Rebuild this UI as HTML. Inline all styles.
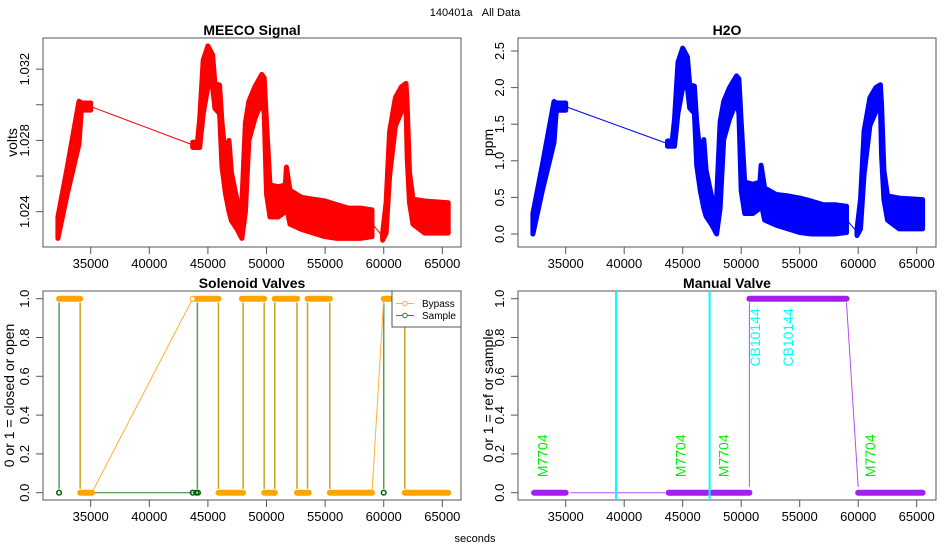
<!DOCTYPE html>
<html><head><meta charset="utf-8"><style>
body{margin:0;background:#fff}
svg{display:block;font-family:"Liberation Sans",sans-serif}
</style></head><body>
<svg id="c" width="950" height="550" viewBox="0 0 950 550"></svg>
<script>
// ---- data ----
const segIds = [0,0,0,0,0, 1,1,1,1,1,1,1,1,1,1,1,1,1,1,1,1,1,1,1,1,1,1,1,1,1,1,1,1,1,1,1,1, 2,2,2,2,2,2,2,2,2,2,2];
const times = [32200,33000,34000,34200,35000,
 43700,44100,44300,44600,45000,45400,45600,46000,46200,46500,46800,47000,47500,47900,48200,48500,49000,49600,49800,50000,50300,51000,51600,51700,52000,53000,54000,55000,56000,57000,58000,59000,
 59900,60200,60500,61000,61500,61900,62000,62200,62500,63500,65500];
const meecoLo = [1.0225,1.0250,1.0278,1.0297,1.0297,
 1.0276,1.0276,1.0276,1.0295,1.0310,1.0310,1.0298,1.0295,1.0265,1.0250,1.0240,1.0235,1.0230,1.0225,1.0240,1.0280,1.0292,1.0302,1.0295,1.0250,1.0237,1.0237,1.0240,1.0243,1.0233,1.0230,1.0228,1.0226,1.0225,1.0225,1.0225,1.0226,
 1.0224,1.0228,1.0260,1.0288,1.0296,1.0300,1.0270,1.0245,1.0233,1.0228,1.0228];
const meecoHi = [1.0237,1.0265,1.0302,1.0301,1.0301,
 1.0279,1.0279,1.0292,1.0325,1.0333,1.0328,1.0312,1.0311,1.0290,1.0270,1.0280,1.0262,1.0246,1.0245,1.0290,1.0302,1.0310,1.0317,1.0315,1.0290,1.0255,1.0254,1.0255,1.0265,1.0252,1.0248,1.0247,1.0246,1.0244,1.0242,1.0242,1.0241,
 1.0228,1.0245,1.0285,1.0304,1.0310,1.0312,1.0300,1.0262,1.0247,1.0246,1.0245];
const h2oLo = [0.00,0.59,1.25,1.69,1.69,
 1.20,1.20,1.20,1.65,2.00,2.00,1.72,1.65,0.94,0.59,0.35,0.24,0.12,0.00,0.35,1.29,1.57,1.81,1.65,0.59,0.28,0.28,0.35,0.42,0.19,0.12,0.07,0.02,0.00,0.00,0.00,0.02,
 -0.02,0.07,0.82,1.48,1.67,1.76,1.06,0.47,0.19,0.07,0.07];
const h2oHi = [0.28,0.94,1.81,1.79,1.79,
 1.27,1.27,1.57,2.35,2.54,2.42,2.04,2.02,1.53,1.06,1.29,0.87,0.49,0.47,1.53,1.81,2.00,2.16,2.12,1.53,0.71,0.68,0.71,0.94,0.63,0.54,0.52,0.49,0.45,0.40,0.40,0.38,
 0.07,0.47,1.41,1.86,2.00,2.04,1.76,0.87,0.52,0.49,0.47];
const bypassOnStart = [32300,43900,47900,50700,53500,60000];
const bypassOnEnd   = [34100,45900,49800,52600,55400,61800];
const bypassOffStart= [34100,45900,49800,50700,52600,55400,61800];
const bypassOffEnd  = [35100,48000,50700,50700,53600,59000,65500];
const bypassJumpFrom= [35100,59000];
const bypassJumpTo  = [43700,60000];
const switchTimes   = [32300,34100,44100,45900,48000,49800,50700,52600,53500,55400,60000,61800];
const switchIsSample= [1,0,1,0,0,0,0,0,0,0,1,0];
const samplePoints  = [32300,43700,44000,44150,60000];
const manualOnStart = [50700];
const manualOnEnd   = [59000];
const manualOffStart= [32300,43800,60000];
const manualOffEnd  = [35000,50700,65500];
const cyanLines     = [39300,47300];
const m7704Times    = [33000,44800,48500,61000];
const cb10144Times  = [51200,54000];
const xTicks = [35000,40000,45000,50000,55000,60000,65000];
const meecoTicks = [1.024,1.026,1.028,1.030,1.032];
const meecoTickLabels = ["1.024","","1.028","","1.032"];
const h2oTicks = [0,0.5,1,1.5,2,2.5];
const h2oTickLabels = ["0.0","0.5","1.0","1.5","2.0","2.5"];
const valveTicks = [0,0.2,0.4,0.6,0.8,1.0];
const valveTickLabels = ["0.0","0.2","0.4","0.6","0.8","1.0"];

// ---- scales ----
const xL = t => 90.7 + (t-35000)*0.011721;
const xR = t => 565.7 + (t-35000)*0.0117;
const yMeeco = v => 211.7 - (v-1.024)/0.004*71.3;
const yH2O = p => 234 - p*73.2;
const yBot = s => 492.7 - s*194;

const svg = document.getElementById('c');
const NS = 'http://www.w3.org/2000/svg';
function mk(tag, attrs, parent, text){
  const e = document.createElementNS(NS, tag);
  for (const k in attrs) e.setAttribute(k, attrs[k]);
  if (text !== undefined) e.textContent = text;
  (parent||svg).appendChild(e);
  return e;
}

let el;
el = mk('text',{x:475,y:16,'font-size':11,'text-anchor':'middle'},svg,'140401a\u00a0\u00a0\u00a0All Data');


el = mk('text',{x:475,y:542,'font-size':11,'text-anchor':'middle'},svg,'seconds');



function panel(name, box, xs, title, ylab, yticks, ylabels, ys, ylabX){
  const g = mk('g',{});
  
  
  el = mk('rect',{x:box[0],y:box[1],width:box[2]-box[0],height:box[3]-box[1],fill:'none',stroke:'#555','stroke-width':1},g);
  
  
  el = mk('text',{x:(box[0]+box[2])/2,y:box[1]-3,'font-size':14,'font-weight':'bold','text-anchor':'middle'},g,title);
  
  
  const xa = mk('g',{},g);
  
  
  mk('line',{x1:xs(xTicks[0]),x2:xs(xTicks[xTicks.length-1]),y1:box[3],y2:box[3],stroke:'#555'},xa);
  xTicks.forEach(t=>{
    mk('line',{x1:xs(t),x2:xs(t),y1:box[3],y2:box[3]+7,stroke:'#555'},xa);
    el = mk('text',{x:xs(t),y:box[3]+21,'font-size':13,'text-anchor':'middle'},xa,String(t));
    
    
  });
  const ya = mk('g',{},g);
  
  
  mk('line',{x1:box[0],x2:box[0],y1:ys(yticks[0]),y2:ys(yticks[yticks.length-1]),stroke:'#555'},ya);
  yticks.forEach((v,i)=>{
    const y = ys(v);
    mk('line',{x1:box[0]-7,x2:box[0],y1:y,y2:y,stroke:'#555'},ya);
    if (ylabels[i]){
      el = mk('text',{x:0,y:0,'font-size':13,'text-anchor':'middle',transform:`translate(${box[0]-14},${y}) rotate(-90)`},ya,ylabels[i]);
      
      
    }
  });
  el = mk('text',{x:0,y:0,'font-size':14,'text-anchor':'middle',transform:`translate(${ylabX},${(box[1]+box[3])/2}) rotate(-90)`},g,ylab);
  
  
  return g;
}

function bandSeries(g, xs, ys, lo, hi, color, name){
  const sg = mk('g',{},g);
  
  
  const segs = [...new Set(segIds)];
  const lastCenter = [];
  segs.forEach(s=>{
    const idx = times.map((t,i)=>i).filter(i=>segIds[i]===s);
    const top = idx.map(i=>`${xs(times[i]).toFixed(1)},${ys(hi[i]).toFixed(1)}`);
    const bot = idx.slice().reverse().map(i=>`${xs(times[i]).toFixed(1)},${ys(lo[i]).toFixed(1)}`);
    el = mk('polygon',{points:top.concat(bot).join(' '),fill:color,stroke:color,'stroke-width':5,'stroke-linejoin':'round'},sg);
    
    
    lastCenter.push([idx[0], idx[idx.length-1]]);
  });
  for (let k=0;k<lastCenter.length-1;k++){
    const a = lastCenter[k][1], b = lastCenter[k+1][0];
    el = mk('line',{x1:xs(times[a]),y1:ys((lo[a]+hi[a])/2),x2:xs(times[b]),y2:ys((lo[b]+hi[b])/2),stroke:color,'stroke-width':1},sg);
    
    
  }
}

// Panel 1: MEECO
const p1 = panel('meeco-signal-panel',[43,38,461,247],xL,'MEECO Signal','volts',meecoTicks,meecoTickLabels,yMeeco,17);
bandSeries(p1,xL,yMeeco,meecoLo,meecoHi,'#ff0000','meeco-series');

// Panel 2: H2O
const p2 = panel('h2o-panel',[518,38,936,247],xR,'H2O','ppm',h2oTicks,h2oTickLabels,yH2O,493);
bandSeries(p2,xR,yH2O,h2oLo,h2oHi,'#0000ff','h2o-series');

// Panel 3: Solenoid valves
const p3 = panel('solenoid-valves-panel',[43,291,461,500],xL,'Solenoid Valves','0 or 1 = closed or open',valveTicks,valveTickLabels,yBot,14);
switchTimes.forEach((t,i)=>{
  el = mk('line',{x1:xL(t),x2:xL(t),y1:yBot(0.02),y2:yBot(0.98),stroke:switchIsSample[i]?'#5a9a5a':'#c8a020','stroke-width':1.5},p3);
  
  
});
bypassJumpFrom.forEach((t,i)=>{
  el = mk('line',{x1:xL(t),y1:yBot(0),x2:xL(bypassJumpTo[i]),y2:yBot(1),stroke:'#ffb030','stroke-width':1},p3);
  
  
});
el = mk('line',{x1:xL(35100),y1:yBot(0),x2:xL(43700),y2:yBot(0),stroke:'#2e7d2e','stroke-width':1},p3);


bypassOnStart.forEach((t,i)=>{
  el = mk('line',{x1:xL(t),x2:xL(bypassOnEnd[i]),y1:yBot(1),y2:yBot(1),stroke:'#ffa500','stroke-width':6,'stroke-linecap':'round'},p3);
  
  
});
bypassOffStart.forEach((t,i)=>{
  el = mk('line',{x1:xL(t),x2:xL(bypassOffEnd[i]),y1:yBot(0),y2:yBot(0),stroke:'#ffa500','stroke-width':6,'stroke-linecap':'round'},p3);
  
  
});
el = mk('circle',{cx:xL(43700),cy:yBot(1),r:2.5,fill:'#fff',stroke:'#ffa500'},p3);


samplePoints.forEach(t=>{
  el = mk('circle',{cx:xL(t),cy:yBot(0),r:2.3,fill:'none',stroke:'#006400','stroke-width':1.5},p3);
  
  
});
const lg = mk('g',{},p3);


mk('rect',{x:392,y:291,width:69,height:36,fill:'#fff',stroke:'#555'},lg);
[['Bypass','#ffb040',303.5],['Sample','#2e8b2e',315.5]].forEach(([n,c,y])=>{
  const e = mk('g',{},lg);
  
  
  mk('line',{x1:396,x2:414,y1:y,y2:y,stroke:c},e);
  mk('circle',{cx:405,cy:y,r:2.3,fill:'#fff',stroke:c},e);
  mk('text',{x:422,y:y+3.5,'font-size':10},e,n);
});

// Panel 4: Manual valve
const p4 = panel('manual-valve-panel',[518,291,936,500],xR,'Manual Valve','0 or 1 = ref or sample',valveTicks,valveTickLabels,yBot,493);
el = mk('line',{x1:xR(35400),x2:xR(43500),y1:yBot(0),y2:yBot(0),stroke:'#b050f0','stroke-width':1},p4);


el = mk('line',{x1:xR(50700),x2:xR(50700),y1:yBot(0.03),y2:yBot(0.98),stroke:'#b050f0','stroke-width':1},p4);


el = mk('line',{x1:xR(59000),x2:xR(60000),y1:yBot(0.98),y2:yBot(0.03),stroke:'#b050f0','stroke-width':1},p4);


manualOnStart.forEach((t,i)=>{
  el = mk('line',{x1:xR(t),x2:xR(manualOnEnd[i]),y1:yBot(1),y2:yBot(1),stroke:'#a020f0','stroke-width':6,'stroke-linecap':'round'},p4);
  
  
});
manualOffStart.forEach((t,i)=>{
  el = mk('line',{x1:xR(t),x2:xR(manualOffEnd[i]),y1:yBot(0),y2:yBot(0),stroke:'#a020f0','stroke-width':6,'stroke-linecap':'round'},p4);
  
  
});
cyanLines.forEach(t=>{
  el = mk('line',{x1:xR(t),x2:xR(t),y1:291,y2:500,stroke:'#00ffff','stroke-width':2},p4);
  
  
});
m7704Times.forEach(t=>{
  el = mk('text',{x:0,y:0,'font-size':14,fill:'#00ee00',transform:`translate(${xR(t)+5},${yBot(0.08)}) rotate(-90)`},p4,'M7704');
  
  
});
cb10144Times.forEach(t=>{
  el = mk('text',{x:0,y:0,'font-size':14,fill:'#00ffff',transform:`translate(${xR(t)+5},${yBot(0.65)}) rotate(-90)`},p4,'CB10144');
  
  
});
</script>
</body></html>
